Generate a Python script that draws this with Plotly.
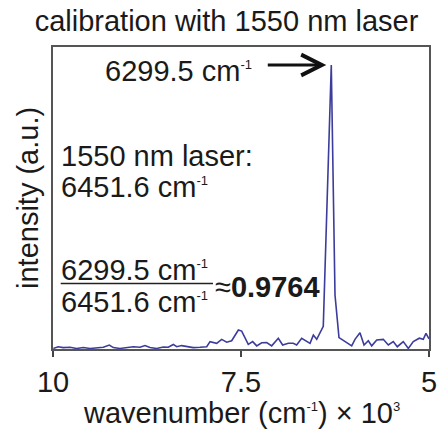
import plotly.graph_objects as go

# wavenumber (cm^-1) x 10^3
wavenumber = [9.996, 9.93, 9.863, 9.774, 9.685, 9.597, 9.508, 9.419, 9.331, 9.251,
              9.198, 9.109, 9.020, 8.932, 8.843, 8.777, 8.710, 8.621, 8.533, 8.467,
              8.400, 8.355, 8.289, 8.222, 8.134, 8.045, 7.956, 7.912, 7.823, 7.757,
              7.690, 7.624, 7.535, 7.491, 7.447, 7.403, 7.345, 7.291, 7.225, 7.158,
              7.092, 7.004, 6.946, 6.871, 6.805, 6.760, 6.693, 6.627, 6.582, 6.538,
              6.493, 6.406, 6.2995, 6.250, 6.197, 6.150, 6.095, 6.028, 5.984, 5.918,
              5.864, 5.807, 5.762, 5.695, 5.608, 5.541, 5.475, 5.422, 5.342, 5.275,
              5.209, 5.129, 5.076, 5.040, 5.0]
intensity = [0.002, 0.008, 0.005, 0.006, 0.002, 0.005, 0.002, 0.005, 0.006, 0.014,
             0.005, 0.002, 0.006, 0.008, 0.006, 0.012, 0.005, 0.002, 0.007, 0.006,
             0.016, 0.008, 0.012, 0.008, 0.005, 0.006, 0.008, 0.026, 0.020, 0.034,
             0.024, 0.029, 0.067, 0.063, 0.038, 0.016, 0.026, 0.011, 0.022, 0.023,
             0.011, 0.038, 0.014, 0.020, 0.020, 0.014, 0.038, 0.026, 0.020, 0.049,
             0.034, 0.080, 1.0, 0.19, 0.04, 0.032, 0.022, 0.011, 0.034, 0.057,
             0.014, 0.029, 0.011, 0.032, 0.034, 0.014, 0.026, 0.008, 0.026, 0.002,
             0.026, 0.038, 0.034, 0.055, 0.036]

tick_vals = [10, 7.5, 5]
tick_text = ["10", "7.5", "5"]

SUP = '<sup><span style="font-size:13px">{}</span></sup>'
peak_wn = 6.2995
peak_label = "6299.5 cm" + SUP.format("-1")
laser_line1 = "1550 nm laser:"
laser_line2 = "6451.6 cm" + SUP.format("-1")
ratio_num = "6299.5 cm" + SUP.format("-1")
ratio_den = "6451.6 cm" + SUP.format("-1")
ratio_val = "≈<b>0.9764</b>"
x_title = "wavenumber (cm" + SUP.format("-1") + ") × 10" + SUP.format("3")
y_title = "intensity (a.u.)"
main_title = "calibration with 1550 nm laser"

FONT = "Liberation Sans, Arial, sans-serif"
TXT = "#1a1a1a"
FS = 29

fig = go.Figure()
fig.add_trace(go.Scatter(x=wavenumber, y=intensity, mode="lines",
                         line=dict(color="#3c3c9c", width=1.6), showlegend=False,
                         hoverinfo="skip"))

fig.update_layout(
    width=439, height=433,
    margin=dict(l=53, r=10, t=47, b=84, autoexpand=False),
    paper_bgcolor="white", plot_bgcolor="white",
    font=dict(family=FONT, size=FS, color=TXT),
    title=dict(text=main_title, x=0.516, xref="container",
               y=1 - 21 / 433, yref="container", xanchor="center", yanchor="middle",
               automargin=False,
               font=dict(size=FS, family=FONT, color=TXT)),
    xaxis=dict(range=[10, 5], tickvals=tick_vals, ticktext=tick_text,
               ticks="outside", ticklen=6, tickwidth=1.5, tickcolor="#444",
               showline=True, linecolor="#555", linewidth=1.5, mirror=True,
               showgrid=False, zeroline=False, automargin=False,
               tickfont=dict(size=FS, family=FONT, color=TXT)),
    yaxis=dict(range=[0, 1.0634], showticklabels=False, ticks="",
               showline=True, linecolor="#555", linewidth=1.5, mirror=True,
               showgrid=False, zeroline=False, automargin=False),
)

def px(X):
    return (X - 53) / 376

def py(Y):
    return (349 - Y) / 302

ann = dict(xref="paper", yref="paper", showarrow=False,
           font=dict(size=FS, family=FONT, color=TXT))

fig.add_annotation(text=peak_label, x=px(103), y=py(71), xanchor="left", yanchor="middle", **ann)
fig.add_annotation(text=laser_line1, x=px(59), y=py(156), xanchor="left", yanchor="middle", **ann)
fig.add_annotation(text=laser_line2, x=px(59), y=py(187), xanchor="left", yanchor="middle", **ann)
fig.add_annotation(text=ratio_num, x=px(59), y=py(270), xanchor="left", yanchor="middle", **ann)
fig.add_annotation(text=ratio_den, x=px(59), y=py(302), xanchor="left", yanchor="middle", **ann)
fig.add_annotation(text=ratio_val, x=px(213), y=py(287), xanchor="left", yanchor="middle", **ann)
fig.add_annotation(text=y_title, x=px(28), y=0.5, xanchor="center", yanchor="middle",
                   textangle=-90, **ann)
fig.add_annotation(text=x_title, x=0.5, y=py(413),
                   xanchor="center", yanchor="middle", **ann)

# arrow pointing at the peak
fig.add_annotation(text="", x=peak_wn, y=1.0, xref="x", yref="y", showarrow=True,
                   ax=-65, ay=0, arrowhead=5, arrowsize=1.35, arrowwidth=3,
                   arrowcolor="#111", standoff=5)

# fraction bar
fig.add_shape(type="line", xref="paper", yref="paper", x0=px(60.7), x1=px(213),
              y0=py(283.5), y1=py(283.5), line=dict(color="#222", width=1.5))

fig.write_html("out.html")
